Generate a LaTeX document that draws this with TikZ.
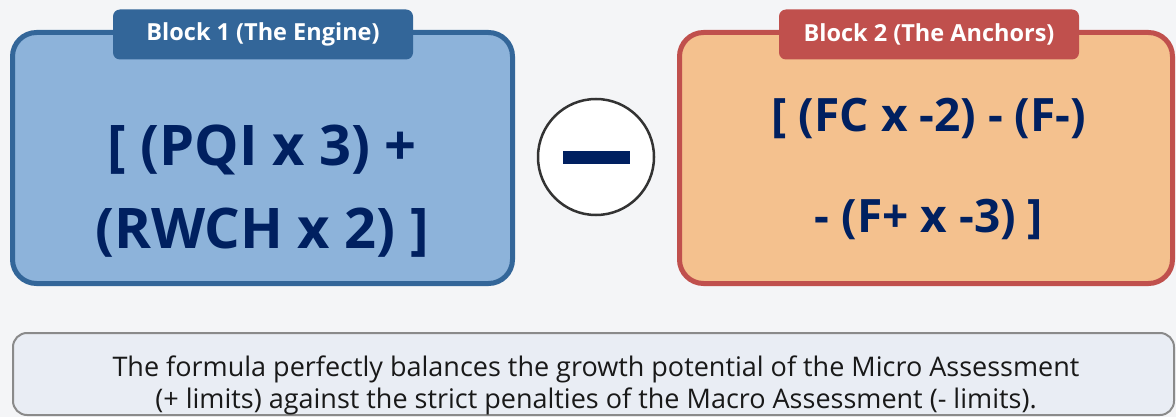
\documentclass[tikz,border=0pt]{standalone}
\usepackage{fontspec}
\setmainfont{Open Sans}
\usetikzlibrary{positioning}
\definecolor{pageBg}{HTML}{F4F5F7}
\definecolor{engFill}{HTML}{8DB3DA}
\definecolor{engDraw}{HTML}{336699}
\definecolor{ancFill}{HTML}{F4C18E}
\definecolor{ancDraw}{HTML}{C0504D}
\definecolor{formula}{HTML}{002060}
\definecolor{noteFill}{HTML}{E9EDF4}
\definecolor{noteDraw}{HTML}{8A8A8A}
\tikzset{
  block/.style   ={draw, rounded corners=24pt, line width=5pt, inner sep=0pt},
  engine/.style  ={block, fill=engFill, draw=engDraw},
  anchorbox/.style={block, fill=ancFill, draw=ancDraw},
  tab/.style     ={rounded corners=7pt, minimum width=300pt, minimum height=50pt,
                   text=white, font=\fontsize{23.5}{27}\selectfont\bfseries},
  expr/.style    ={align=center, text=formula, inner sep=0pt},
  note/.style    ={draw=noteDraw, fill=noteFill, line width=2pt, rounded corners=14pt},
}
\begin{document}
\begin{tikzpicture}[x=1pt, y=-1pt]
  \fill[pageBg] (0,0) rectangle (1176,417);
  \useasboundingbox (0,0) rectangle (1176,417);

  % the two blocks
  \node[engine, minimum width=500pt, minimum height=251pt] (eng) at (262.5,158) {};
  \node[anchorbox, minimum width=493pt, minimum height=251pt] (anc) at (926,158) {};
  \node[tab, fill=engDraw] (engTab) at (263,34.5) {Block 1 (The Engine)};
  \node[tab, fill=ancDraw] (ancTab) at (929,34.5) {Block 2 (The Anchors)};

  \node[expr, font=\fontsize{56}{83}\selectfont\bfseries] (engExpr) at (262,191)
       {[ (PQI x 3) +\\(RWCH x 2) ]};
  \node[expr, font=\fontsize{46}{101}\selectfont\bfseries] (ancExpr) at (929,169)
       {[ (FC x -2) - (F-)\\- (F+ x -3) ]};

  % minus sign between them
  \node[circle, draw=black!80, fill=white, line width=2.5pt, minimum size=116pt] (minus) at (596,157) {};
  \node[fill=formula, minimum width=67pt, minimum height=13pt, inner sep=0pt] (bar) at (596,158) {};

  % footnote box
  \node[note, minimum width=1161pt, minimum height=82pt] (noteBox) at (593.5,374) {};
  \node[align=center, text=black!90, font=\fontsize{27}{32}\selectfont] (noteText) at (596,385)
       {The formula perfectly balances the growth potential of the Micro Assessment\\
        (+ limits) against the strict penalties of the Macro Assessment (- limits).};
\end{tikzpicture}
\end{document}
